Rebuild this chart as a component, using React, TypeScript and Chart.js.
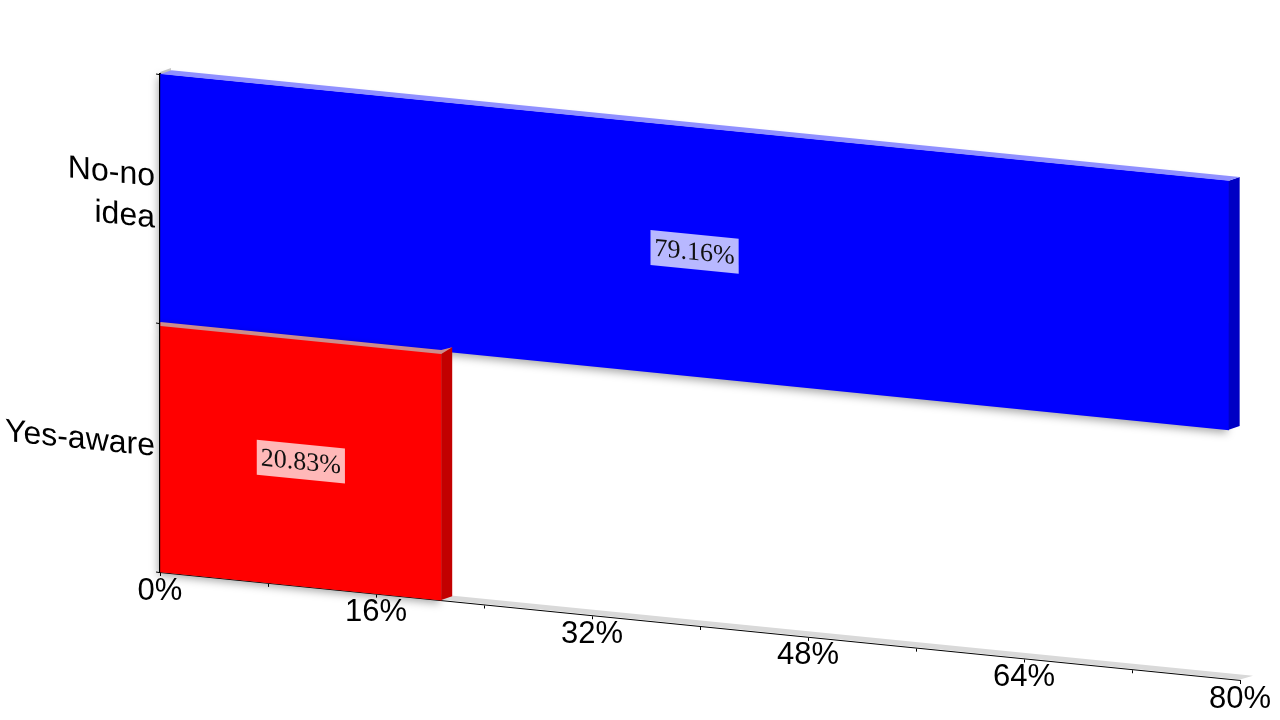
import React, { useEffect, useRef } from 'react';
import { Chart, registerables } from 'chart.js';

Chart.register(...registerables);

const categories: (string | string[])[] = [['No-no', 'idea'], 'Yes-aware'];
const values: number[] = [79.16, 20.83];
const valueLabels: string[] = ['79.16%', '20.83%'];
const barColors: string[] = ['#0000ff', '#ff0000'];
const sideColors: string[] = ['#0000c4', '#c20000'];
const topColors: string[] = ['#9090ff', '#cc8c8c'];
const xTickValues: number[] = [0, 16, 32, 48, 64, 80];
const xTickLabels: string[] = ['0%', '16%', '32%', '48%', '64%', '80%'];

const SHEAR = 0.1;
const DX = 11;
const DY = -5;

function poly(ctx: CanvasRenderingContext2D, pts: number[][]) {
  ctx.beginPath();
  ctx.moveTo(pts[0][0], pts[0][1]);
  for (let i = 1; i < pts.length; i++) ctx.lineTo(pts[i][0], pts[i][1]);
  ctx.closePath();
  ctx.fill();
}

const skewPlugin = {
  id: 'skew3d',
  beforeDraw(chart: any) {
    const ctx: CanvasRenderingContext2D = chart.ctx;
    const a = chart.chartArea;
    ctx.save();
    ctx.transform(1, SHEAR, 0, 1, 0, -SHEAR * a.left);
    // back wall edge
    ctx.fillStyle = '#c8c8c8';
    poly(ctx, [
      [a.left, a.top - 2],
      [a.left + DX, a.top - 2 + DY],
      [a.left + DX, a.bottom + DY],
      [a.left, a.bottom],
    ]);
    // floor
    ctx.fillStyle = '#d9d9d9';
    poly(ctx, [
      [a.left, a.bottom - 0.5],
      [a.right, a.bottom - 0.5],
      [a.right + DX + 2, a.bottom - 0.5 + DY],
      [a.left + DX, a.bottom - 0.5 + DY],
    ]);
  },
  beforeDatasetsDraw(chart: any) {
    const ctx: CanvasRenderingContext2D = chart.ctx;
    ctx.save();
    ctx.shadowColor = 'rgba(0,0,0,0.35)';
    ctx.shadowBlur = 9;
    ctx.shadowOffsetX = -2;
    ctx.shadowOffsetY = 3;
  },
  afterDatasetsDraw(chart: any) {
    const ctx: CanvasRenderingContext2D = chart.ctx;
    ctx.restore();
    const meta = chart.getDatasetMeta(0);
    meta.data.forEach((bar: any, i: number) => {
      const p = bar.getProps(['x', 'y', 'base', 'height'], true);
      const top = p.y - p.height / 2;
      const bottom = p.y + p.height / 2;
      const xe = p.x;
      const xb = p.base;
      ctx.fillStyle = sideColors[i];
      poly(ctx, [
        [xe, top],
        [xe + DX, top + DY],
        [xe + DX, bottom + DY],
        [xe, bottom],
      ]);
      ctx.fillStyle = topColors[i];
      if (i === 0) {
        poly(ctx, [
          [xb, top],
          [xe, top],
          [xe + DX, top + DY],
          [xb + DX, top + DY],
        ]);
      } else {
        // lower bar: its top face shows as a thin strip along the boundary
        poly(ctx, [
          [xb, top - 1],
          [xe, top - 1],
          [xe + DX, top + DY],
          [xe, top + 3],
          [xb, top + 3],
        ]);
      }
    });
    meta.data.forEach((bar: any, i: number) => {
      const p = bar.getProps(['x', 'y', 'base', 'height'], true);
      const cx = (p.x + p.base) / 2;
      const cy = p.y;
      ctx.font = '26px "Liberation Serif"';
      const w = ctx.measureText(valueLabels[i]).width + 8;
      const h = 35;
      ctx.fillStyle = 'rgba(255,255,255,0.72)';
      ctx.fillRect(cx - w / 2, cy - h / 2, w, h);
      ctx.fillStyle = '#111111';
      ctx.textAlign = 'center';
      ctx.textBaseline = 'middle';
      ctx.fillText(valueLabels[i], cx, cy + 1);
    });
  },
  afterDraw(chart: any) {
    const ctx: CanvasRenderingContext2D = chart.ctx;
    ctx.restore();
    const a = chart.chartArea;
    const xs = chart.scales.x;
    ctx.save();
    ctx.font = '31px "Liberation Sans"';
    ctx.fillStyle = '#000000';
    ctx.textAlign = 'center';
    ctx.textBaseline = 'middle';
    xTickValues.forEach((v, i) => {
      const px = xs.getPixelForValue(v);
      const py = a.bottom + 19 + SHEAR * (px - a.left);
      ctx.fillText(xTickLabels[i], px, py);
    });
    ctx.restore();
  },
};

export default function App() {
  const ref = useRef<HTMLCanvasElement | null>(null);
  useEffect(() => {
    if (!ref.current) return;
    const chart = new Chart(ref.current, {
      type: 'bar',
      data: {
        labels: categories as any,
        datasets: [
          {
            data: values,
            backgroundColor: barColors,
            borderWidth: 0,
            barPercentage: 1,
            categoryPercentage: 1,
            clip: false as any,
          },
        ],
      },
      options: {
        indexAxis: 'y',
        animation: false,
        responsive: false,
        maintainAspectRatio: false,
        layout: { padding: { top: 74, right: 40, left: 0, bottom: 0 } },
        plugins: { legend: { display: false }, tooltip: { enabled: false } },
        scales: {
          x: {
            type: 'linear',
            min: 0,
            max: 80,
            ticks: { stepSize: 8, display: false },
            grid: { drawOnChartArea: false, drawTicks: true, tickLength: 4, color: '#000000', lineWidth: 1 },
            border: { color: '#000000', width: 1 },
            afterFit: (s: any) => {
              s.height = 148;
            },
          },
          y: {
            ticks: {
              color: '#000000',
              font: { family: 'Liberation Sans', size: 32, lineHeight: 1.3 },
              padding: 1,
            },
            grid: { drawOnChartArea: false, tickLength: 4, color: '#000000', offset: true },
            border: { color: '#000000', width: 2 },
            afterFit: (s: any) => {
              s.width = 160;
            },
          },
        },
      },
      plugins: [skewPlugin],
    } as any);
    return () => chart.destroy();
  }, []);
  return (
    <div style={{ position: 'absolute', left: 0, top: 0, width: 1280, height: 720, background: '#ffffff' }}>
      <canvas ref={ref} width={1280} height={720} style={{ display: 'block' }} />
    </div>
  );
}
